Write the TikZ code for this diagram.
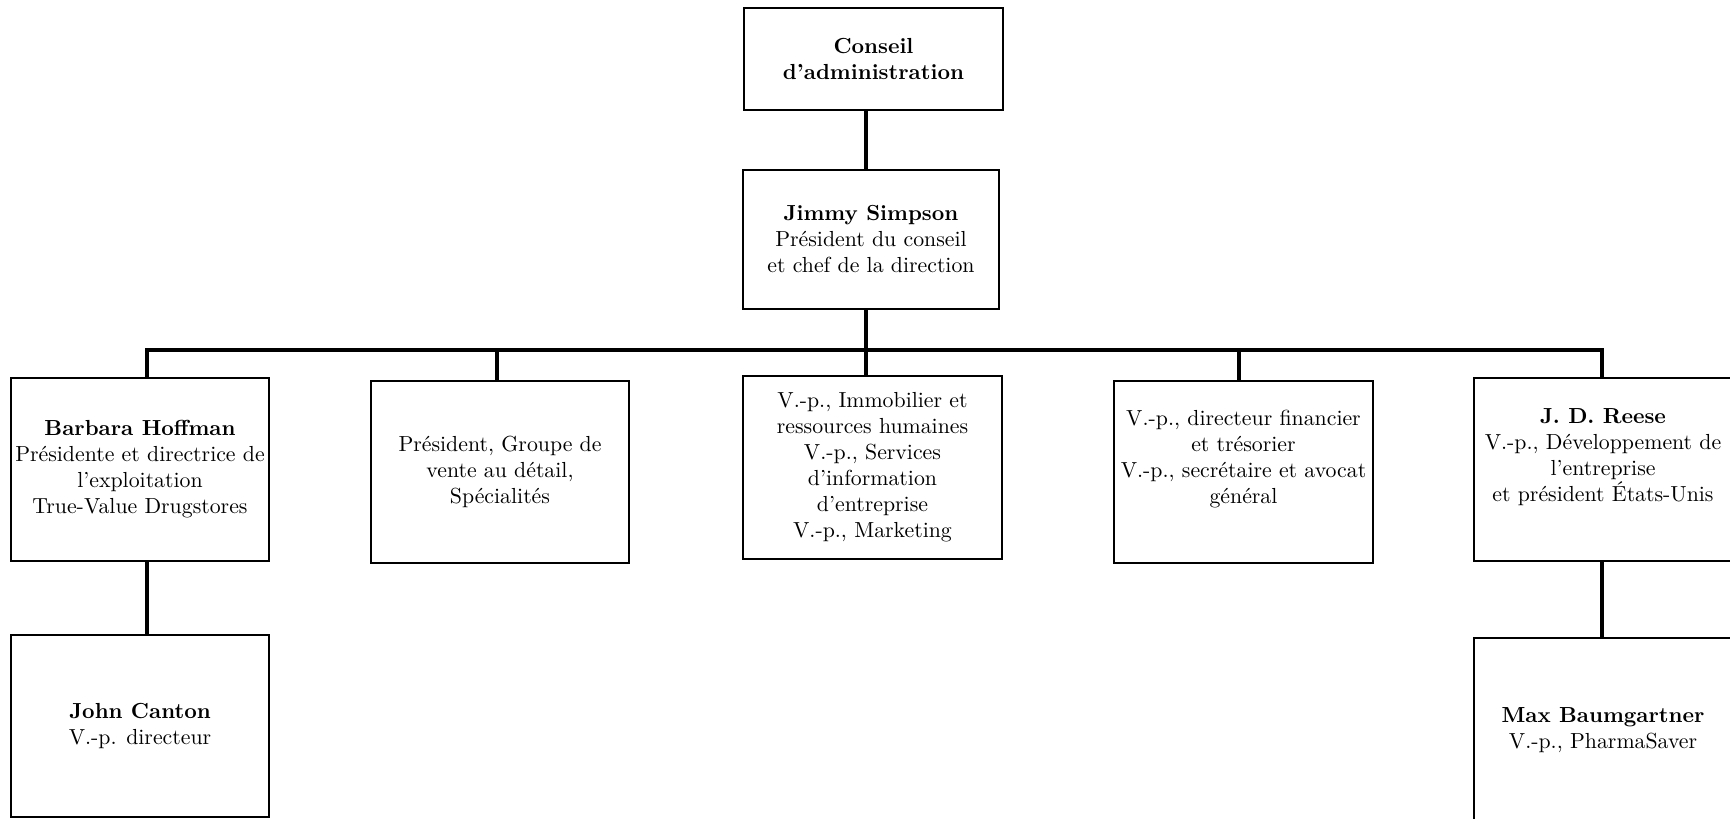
\documentclass[tikz,border=0pt]{standalone}
\usepackage{fontspec}
\begin{document}
\begin{tikzpicture}[x=0.5pt,y=-0.5pt,
  box/.style={draw, line width=1pt, inner sep=0pt, align=center,
    font=\fontsize{10.9}{13}\selectfont},
  txt/.style={inner sep=0pt, align=center, font=\fontsize{10.9}{13}\selectfont},
  conn/.style={line width=2pt, line join=miter}]
\useasboundingbox (0,0) rectangle (1730,819);

% boxes
\node[box, minimum width=129.5pt, minimum height=51pt] (conseil) at (873.5,59)
  {\textbf{Conseil}\\\textbf{d’administration}};
\node[box, minimum width=128pt, minimum height=69.5pt] (jimmy) at (871,239.5)
  {\textbf{Jimmy Simpson}\\Président du conseil\\et chef de la direction};
\node[box, minimum width=129pt, minimum height=91.5pt] (barbara) at (140,469.5)
  {\textbf{Barbara Hoffman}\\Présidente et directrice de\\l’exploitation\\True-Value Drugstores};
\node[box, minimum width=129pt, minimum height=91pt] (pres) at (500,472)
  {Président, Groupe de\\vente au détail,\\Spécialités};
\node[box, minimum width=129.5pt, minimum height=91.5pt] (immo) at (872.5,467.5)
  {V.-p., Immobilier et\\ressources humaines\\V.-p., Services\\d’information\\d’entreprise\\V.-p., Marketing};
\node[box, minimum width=129.5pt, minimum height=91pt] (fin) at (1243.5,472) {};
\node[txt] (fintxt) at ([yshift=6.5pt]fin.center)
  {V.-p., directeur financier\\et trésorier\\V.-p., secrétaire et avocat\\général};
\node[box, minimum width=129pt, minimum height=91.5pt] (reese) at (1603,469.5) {};
\node[txt] (reesetxt) at ([yshift=6pt]reese.center)
  {\textbf{J. D. Reese}\\V.-p., Développement de\\l’entreprise\\et président États-Unis};
\node[box, minimum width=129pt, minimum height=91pt] (john) at (140,726)
  {\textbf{John Canton}\\V.-p. directeur};
\node[box, minimum width=129pt, minimum height=92pt] (max) at (1603,730)
  {\textbf{Max Baumgartner}\\V.-p., PharmaSaver};

% bus coordinates
\coordinate (d1) at (147,350);
\coordinate (d2) at (497,350);
\coordinate (top) at (866,350);
\coordinate (d4) at (1239,350);
\coordinate (d5) at (1602,350);

% connectors
\draw[conn] (conseil.south -| top) -- (jimmy.north -| top);
\draw[conn] (jimmy.south -| top) -- (top);
\draw[conn] (d1 |- barbara.north) -- (d1) -- (d5) -- (d5 |- reese.north);
\draw[conn] (d2) -- (d2 |- pres.north);
\draw[conn] (top) -- (top |- immo.north);
\draw[conn] (d4) -- (d4 |- fin.north);
\draw[conn] (barbara.south -| d1) -- (john.north -| d1);
\draw[conn] (reese.south -| d5) -- (max.north -| d5);
\end{tikzpicture}
\end{document}
